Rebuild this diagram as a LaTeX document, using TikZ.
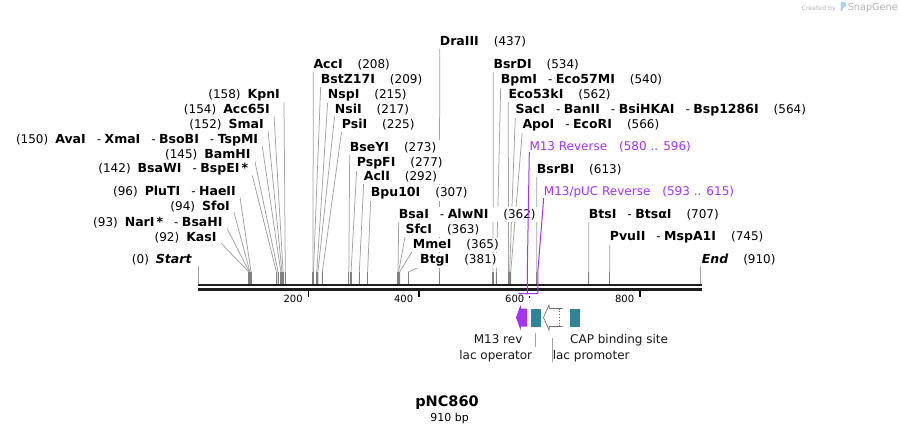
\documentclass[tikz,border=0pt]{standalone}
\usepackage{fontspec}
\setmainfont{DejaVu Sans}
\usetikzlibrary{backgrounds}
\definecolor{MapLine}{HTML}{A2A2A2}
\definecolor{MapStub}{HTML}{808080}
\definecolor{MapSeq}{HTML}{1E1E1E}
\definecolor{MapPrimer}{HTML}{A234F2}
\definecolor{MapTeal}{HTML}{2F8499}
\definecolor{MapMark}{HTML}{B4B4B4}
\definecolor{MapLogo}{HTML}{A9D2EC}
\newcommand{\enz}[1]{{\fontsize{12.5}{14}\selectfont\bfseries #1}}
\newcommand{\enzsep}{\hspace{11pt}-\hspace{3.5pt}}
\newcommand{\numgap}{\hspace{7pt}}
\newcommand{\cutno}[1]{\hspace{15pt}(#1)}
\newcommand{\bpx}[1]{198+0.5525*#1}

\begin{document}
\begin{tikzpicture}[
  x=1pt, y=-1pt,
  font=\fontsize{12}{14}\selectfont,
  siteL/.style={anchor=mid east,fill=white,inner xsep=4pt,inner ysep=2pt},
  siteR/.style={anchor=mid west,fill=white,inner xsep=4pt,inner ysep=2pt},
  cut/.style={draw=MapLine,line width=0.75pt},
  stub/.style={draw=MapStub,line width=1.1pt},
  primer/.style={draw=MapPrimer,line width=1pt},
  seqline/.style={draw=MapSeq,line width=2.5pt},
  tickmark/.style={draw=black,line width=1.6pt},
  tickno/.style={anchor=mid east,inner sep=0pt,font=\fontsize{10}{12}\selectfont},
  featbox/.style={fill=MapTeal,minimum width=10pt,minimum height=18pt,inner sep=0pt},
  featlabel/.style={inner sep=0pt,text=black!90},
  leader/.style={draw=MapLine,line width=0.75pt},
]
\begin{scope}[on background layer]
  \fill[white] (0,0) rectangle (900,434);
\end{scope}
\useasboundingbox (0,0) rectangle (900,434);

% cut sites just above the sequence
\foreach \p in {92,93,94,96,142,145,150,152,154,158,208,209,215,217,225,273,277,292,307,362,363,365,381,437,534,540,562,564,566,580,593,596,613,615,707,745,910}
  \coordinate (c\p) at ({\bpx{\p}},272);
\coordinate (c0) at (198,266);
\coordinate (seq) at (0,284);
\coordinate (brk) at (0,293.5);

% sites on the left
\node[siteL] (sta) at (195.7,261) {(0)\numgap\enz{\itshape Start}};
\node[siteL] (kas) at (220.7,238.3) {(92)\numgap\enz{KasI}};
\node[siteL] (nar) at (226.7,223.3) {(93)\numgap\enz{NarI\,*}\enzsep\enz{BsaHI}};
\node[siteL] (sfo) at (234,207.7) {(94)\numgap\enz{SfoI}};
\node[siteL] (plu) at (240,192.7) {(96)\numgap\enz{PluTI}\enzsep\enz{HaeII}};
\node[siteL] (bsw) at (252.3,170) {(142)\numgap\enz{BsaWI}\enzsep\enz{BspEI\,*}};
\node[siteL] (bam) at (254.7,156) {(145)\numgap\enz{BamHI}};
\node[siteL] (ava) at (262.3,141) {(150)\numgap\enz{AvaI}\enzsep\enz{XmaI}\enzsep\enz{BsoBI}\enzsep\enz{TspMI}};
\node[siteL] (sma) at (268,126) {(152)\numgap\enz{SmaI}};
\node[siteL] (acs) at (274,111) {(154)\numgap\enz{Acc65I}};
\node[siteL] (kpn) at (284,96) {(158)\numgap\enz{KpnI}};

% sites on the right
\node[siteR] (acc) at (309.3,66) {\enz{AccI}\cutno{208}};
\node[siteR] (bsz) at (316.7,81) {\enz{BstZ17I}\cutno{209}};
\node[siteR] (nsp) at (323.7,96) {\enz{NspI}\cutno{215}};
\node[siteR] (nsi) at (330.7,111) {\enz{NsiI}\cutno{217}};
\node[siteR] (psi) at (337.7,126) {\enz{PsiI}\cutno{225}};
\node[siteR] (bsy) at (345.7,148.3) {\enz{BseYI}\cutno{273}};
\node[siteR] (psp) at (352.7,163.3) {\enz{PspFI}\cutno{277}};
\node[siteR] (acl) at (359.7,177.7) {\enz{AclI}\cutno{292}};
\node[siteR] (bpu) at (366.7,193.3) {\enz{Bpu10I}\cutno{307}};
\node[siteR] (bsa) at (394.7,215.3) {\enz{BsaI}\enzsep\enz{AlwNI}\cutno{362}};
\node[siteR] (sfc) at (401.3,231) {\enz{SfcI}\cutno{363}};
\node[siteR] (mme) at (408.7,246) {\enz{MmeI}\cutno{365}};
\node[siteR] (btg) at (416,261) {\enz{BtgI}\cutno{381}};
\node[siteR] (dra) at (435.7,43) {\enz{DraIII}\cutno{437}};
\node[siteR] (bsd) at (489.3,66) {\enz{BsrDI}\cutno{534}};
\node[siteR] (bpm) at (496.7,81) {\enz{BpmI}\enzsep\enz{Eco57MI}\cutno{540}};
\node[siteR] (eck) at (504.3,96) {\enz{Eco53kI}\cutno{562}};
\node[siteR] (sac) at (511.3,111) {\enz{SacI}\enzsep\enz{BanII}\enzsep\enz{BsiHKAI}\enzsep\enz{Bsp1286I}\cutno{564}};
\node[siteR] (apo) at (518.3,126) {\enz{ApoI}\enzsep\enz{EcoRI}\cutno{566}};
\node[siteR,text=MapPrimer] (mrv) at (525.3,147.7) {M13 Reverse\hspace{12pt}(580 .. 596)};
\node[siteR] (bsb) at (532.7,171) {\enz{BsrBI}\cutno{613}};
\node[siteR,text=MapPrimer] (mpu) at (539.7,192.7) {M13/pUC Reverse\hspace{12pt}(593 .. 615)};
\node[siteR] (bts) at (584.7,215.3) {\enz{BtsI}\enzsep\enz{BtsαI}\cutno{707}};
\node[siteR] (pvu) at (605.7,238) {\enz{PvuII}\enzsep\enz{MspA1I}\cutno{745}};
\node[siteR] (fin) at (697.7,261) {\enz{\itshape End}\cutno{910}};

\begin{scope}[on background layer]
  \draw[cut] ([yshift=2pt]kas.south east) -- (c92) -- (c92 |- seq);
  \draw[cut] ([yshift=2pt]nar.south east) -- (c93) -- (c93 |- seq);
  \draw[cut] ([yshift=2pt]sfo.south east) -- (c94) -- (c94 |- seq);
  \draw[cut] ([yshift=2pt]plu.south east) -- (c96) -- (c96 |- seq);
  \draw[cut] ([yshift=2pt]bsw.south east) -- (c142) -- (c142 |- seq);
  \draw[cut] ([yshift=2pt]bam.south east) -- (c145) -- (c145 |- seq);
  \draw[cut] ([yshift=2pt]ava.south east) -- (c150) -- (c150 |- seq);
  \draw[cut] ([yshift=2pt]sma.south east) -- (c152) -- (c152 |- seq);
  \draw[cut] ([yshift=2pt]acs.south east) -- (c154) -- (c154 |- seq);
  \draw[cut] ([yshift=2pt]kpn.south east) -- (c158) -- (c158 |- seq);
  \draw[cut] ([shift={(4pt,2pt)}]acc.south west) -- (c208) -- (c208 |- seq);
  \draw[cut] ([shift={(4pt,2pt)}]bsz.south west) -- (c209) -- (c209 |- seq);
  \draw[cut] ([shift={(4pt,2pt)}]nsp.south west) -- (c215) -- (c215 |- seq);
  \draw[cut] ([shift={(4pt,2pt)}]nsi.south west) -- (c217) -- (c217 |- seq);
  \draw[cut] ([shift={(4pt,2pt)}]psi.south west) -- (c225) -- (c225 |- seq);
  \draw[cut] ([shift={(4pt,2pt)}]bsy.south west) -- (c273) -- (c273 |- seq);
  \draw[cut] ([shift={(4pt,2pt)}]psp.south west) -- (c277) -- (c277 |- seq);
  \draw[cut] ([shift={(4pt,2pt)}]acl.south west) -- (c292) -- (c292 |- seq);
  \draw[cut] ([shift={(4pt,2pt)}]bpu.south west) -- (c307) -- (c307 |- seq);
  \draw[cut] ([shift={(4pt,2pt)}]bsa.south west) -- (c362) -- (c362 |- seq);
  \draw[cut] ([shift={(4pt,2pt)}]sfc.south west) -- (c363) -- (c363 |- seq);
  \draw[cut] ([shift={(4pt,2pt)}]mme.south west) -- (c365) -- (c365 |- seq);
  \draw[cut] ([shift={(4pt,2pt)}]btg.south west) -- (c381) -- (c381 |- seq);
  \draw[cut] ([shift={(4pt,2pt)}]dra.south west) -- (c437) -- (c437 |- seq);
  \draw[cut] ([shift={(4pt,2pt)}]bsd.south west) -- (c534) -- (c534 |- seq);
  \draw[cut] ([shift={(4pt,2pt)}]bpm.south west) -- (c540) -- (c540 |- seq);
  \draw[cut] ([shift={(4pt,2pt)}]eck.south west) -- (c562) -- (c562 |- seq);
  \draw[cut] ([shift={(4pt,2pt)}]sac.south west) -- (c564) -- (c564 |- seq);
  \draw[cut] ([shift={(4pt,2pt)}]apo.south west) -- (c566) -- (c566 |- seq);
  \draw[cut] ([shift={(4pt,2pt)}]bsb.south west) -- (c613) -- (c613 |- seq);
  \draw[cut] ([shift={(4pt,2pt)}]bts.south west) -- (c707) -- (c707 |- seq);
  \draw[cut] ([shift={(4pt,2pt)}]pvu.south west) -- (c745) -- (c745 |- seq);
  \foreach \p in {92,93,94,96,142,145,150,152,154,158,208,209,215,217,225,273,277,292,307,362,363,365,381,437,534,540,562,564,566,613,707,745}
    \draw[stub] (c\p) -- (c\p |- seq);
\end{scope}
\draw[cut] (c0) -- (c0 |- seq);
\draw[cut] (c910 |- c0) -- (c910 |- seq);

% sequence and ruler
\coordinate (s0) at (198,285);
\coordinate (s1) at (701.5,285);
\draw[seqline] (s0) -- (s1);
\draw[seqline] ([yshift=-4.5pt]s0) -- ([yshift=-4.5pt]s1);
\foreach \t in {200,400,800}
  \draw[tickmark] ({\bpx{\t}},291) -- ({\bpx{\t}},296.5) node[tickno,at start,xshift=-5pt,yshift=-8.5pt] {\t};
\draw[tickmark] ({\bpx{600}},295.5) -- ({\bpx{600}},297.5);
\node[tickno] (t600) at ({\bpx{600}-5},299.5) {600};

% primers
\draw[primer] ([shift={(4pt,2pt)}]mrv.south west) -- (c596) -- (c596 |- brk) -- (c580 |- brk);
\draw[primer] ([shift={(4pt,2pt)}]mpu.south west) -- (c615) -- (c615 |- brk) -- (c593 |- brk);

% features
\fill[MapPrimer] (527,308.5) -- (521,308.5) -- (520.5,305) -- (516,317.5) -- (520.5,330) -- (521,326.5) -- (527,326.5) -- cycle;
\node[featbox] (lop) at (535.7,317.5) {};
\draw[draw=black!55,fill=white,line width=0.7pt] (562.5,308.5) -- (549.5,308.5) -- (549,305) -- (543.5,317.5) -- (549,330) -- (549.5,326.5) -- (562.5,326.5);
\draw[black!60,dotted,line width=0.8pt] (559,308.5) -- (559,326.5);
\node[featbox] (cap) at (575.4,317.5) {};

\node[featlabel,anchor=mid east] (mrl) at (522.6,341) {M13 rev};
\node[featlabel,anchor=mid east] (lol) at (532.3,357) {lac operator};
\node[featlabel,anchor=mid west] (lpl) at (552.6,357) {lac promoter};
\node[featlabel,anchor=mid west] (cpl) at (570,341) {CAP binding site};
\coordinate (lpt) at (551.9,337.8);
\draw[leader] ([yshift=-6pt]lop.south) -- ([yshift=3pt]lol.north -| lop.south);
\draw[leader] (lpt) -- (lpt |- lpl.south);

% title
\node[font=\fontsize{14.5}{16}\selectfont\bfseries,inner sep=0pt] (title) at (447,403) {pNC860};
\node[font=\fontsize{11}{13}\selectfont,inner sep=0pt] (size) at (449.7,418) {910 bp};

% watermark
\node[anchor=mid east,inner sep=0pt,text=MapMark] (made) at (898,7.5) {{\fontsize{6.2}{7}\selectfont Created by}\hspace{12pt}{\fontsize{9.7}{11}\selectfont SnapGene}};
\fill[MapLogo,rounded corners=1.2pt] (840.5,2) -- (846,2) -- (846,7) -- (842.5,8) -- (842.5,11.5) -- (840.5,11.5) -- cycle;
\end{tikzpicture}
\end{document}
